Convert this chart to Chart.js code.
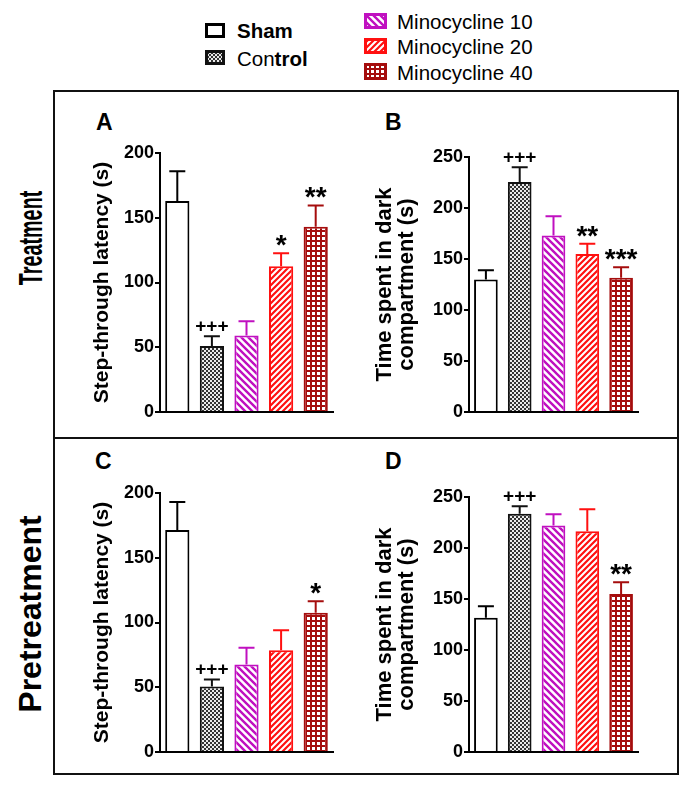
<!DOCTYPE html>
<html>
<head>
<meta charset="utf-8">
<script src="https://cdn.jsdelivr.net/npm/chart.js@4.4.0/dist/chart.umd.min.js"></script>
<style>
  body { margin: 0; background: #fff; font-family: "Liberation Sans", Arial, sans-serif; color: #000; }
  #fig { position: relative; width: 688px; height: 785px; overflow: hidden; }
  .chart { position: absolute; }
  .frame { position: absolute; border: 2px solid #111; }
  .rule { position: absolute; background: #111; }
  .letter { position: absolute; font-weight: bold; font-size: 23px; line-height: 1; }
  .side { position: absolute; font-weight: bold; line-height: 1; white-space: nowrap; }
  .leg { position: absolute; font-size: 20.5px; line-height: 1; white-space: nowrap; }
  .sw { position: absolute; }
</style>
</head>
<body>
<div id="fig">
  <!-- legend -->
  <canvas class="sw" id="swSham" width="20" height="15" style="left:205px;top:23px"></canvas>
  <div class="leg" style="left:237px;top:21px;font-weight:bold">Sham</div>
  <canvas class="sw" id="swCtrl" width="20" height="15" style="left:205px;top:50px"></canvas>
  <div class="leg" style="left:237px;top:49px">Con<b>trol</b></div>
  <canvas class="sw" id="swM10" width="23" height="16" style="left:364px;top:13px"></canvas>
  <div class="leg" style="left:397px;top:12px">Minocycline 10</div>
  <canvas class="sw" id="swM20" width="23" height="16" style="left:364px;top:38px"></canvas>
  <div class="leg" style="left:397px;top:37px">Minocycline 20</div>
  <canvas class="sw" id="swM40" width="23" height="17" style="left:364px;top:63px"></canvas>
  <div class="leg" style="left:397px;top:63px">Minocycline 40</div>

  <!-- frames -->
  <div class="frame" style="left:53px;top:90px;width:622px;height:681px"></div>
  <div class="rule" style="left:53px;top:437px;width:626px;height:2px"></div>

  <div class="side" style="left:30px;top:238px;font-size:33px;transform:translate(-50%,-50%) rotate(-90deg) scaleX(0.6)">Treatment</div>
  <div class="side" style="left:30px;top:614px;font-size:32px;transform:translate(-50%,-50%) rotate(-90deg)">Pretreatment</div>

  <div class="letter" style="left:96px;top:111px">A</div>
  <div class="letter" style="left:385px;top:111px">B</div>
  <div class="letter" style="left:95px;top:450px">C</div>
  <div class="letter" style="left:385px;top:450px">D</div>

  <canvas class="chart" id="chartA" width="290" height="330" style="left:60px;top:100px"></canvas>
  <canvas class="chart" id="chartB" width="300" height="330" style="left:360px;top:100px"></canvas>
  <canvas class="chart" id="chartC" width="290" height="330" style="left:60px;top:440px"></canvas>
  <canvas class="chart" id="chartD" width="300" height="330" style="left:360px;top:440px"></canvas>
</div>

<script>
const groups = ['Sham', 'Control', 'Minocycline 10', 'Minocycline 20', 'Minocycline 40'];

// A - treatment, step-through latency
const treatLatency = [163, 51, 59, 112.5, 143];
const treatLatencySem = [23, 7.5, 11, 10, 16.5];
const treatLatencySig = ['', '+++', '', '*', '**'];

// B - treatment, time in dark compartment
const treatDark = [130, 225.5, 173, 155, 131.5];
const treatDarkSem = [9, 14.5, 19, 10, 10.5];
const treatDarkSig = ['', '+++', '', '**', '***'];

// C - pretreatment, step-through latency
const preLatency = [171.5, 50.5, 67.5, 78.5, 107.5];
const preLatencySem = [21.5, 5.5, 13, 15.5, 9];
const preLatencySig = ['', '+++', '', '', '*'];

// D - pretreatment, time in dark compartment
const preDark = [131.5, 233.5, 222, 216.5, 155];
const preDarkSem = [11.5, 7.5, 11, 21.5, 11.5];
const preDarkSig = ['', '+++', '', '', '**'];

const latencyTicks = [0, 50, 100, 150, 200];
const darkTicks = [0, 50, 100, 150, 200, 250];

const FONT = '"Liberation Sans", Arial, sans-serif';
const MAGENTA = '#c010c0', RED = '#ff1010', DARKRED = '#a50d0d';

function makePattern(kind) {
  const c = document.createElement('canvas');
  const g = c.getContext('2d');
  if (kind == 'checker') {
    c.width = c.height = 4;
    g.fillStyle = '#eaeaea'; g.fillRect(0, 0, 4, 4);
    g.fillStyle = '#333'; g.fillRect(0, 0, 2, 2); g.fillRect(2, 2, 2, 2);
  } else if (kind == 'grid') {
    c.width = c.height = 5;
    g.fillStyle = '#fff'; g.fillRect(0, 0, 5, 5);
    g.fillStyle = DARKRED; g.fillRect(0, 0, 5, 2); g.fillRect(0, 0, 2, 5);
  } else {
    const P = kind == 'back' ? 7 : 6;
    c.width = c.height = P;
    g.fillStyle = '#fff'; g.fillRect(0, 0, P, P);
    g.strokeStyle = kind == 'back' ? MAGENTA : RED;
    g.lineWidth = kind == 'back' ? 2.4 : 2.2;
    g.beginPath();
    for (let k = -1; k <= 2; k++) {
      if (kind == 'back') { g.moveTo(k * P - P, -P); g.lineTo(k * P + 2 * P, 2 * P); }
      else { g.moveTo(k * P + P, -P); g.lineTo(k * P - 2 * P, 2 * P); }
    }
    g.stroke();
  }
  return g.createPattern(c, 'repeat');
}

const fills = ['#fff', makePattern('checker'), makePattern('back'), makePattern('fwd'), makePattern('grid')];
const edges = ['#000', '#111', MAGENTA, RED, DARKRED];

// legend swatches
['swSham', 'swCtrl', 'swM10', 'swM20', 'swM40'].forEach((id, i) => {
  const cv = document.getElementById(id), g = cv.getContext('2d');
  g.fillStyle = fills[i]; g.fillRect(0, 0, cv.width, cv.height);
  g.strokeStyle = edges[i]; g.lineWidth = 3;
  g.strokeRect(1.5, 1.5, cv.width - 3, cv.height - 3);
});

// error bars (upward only) + significance marks
const errbars = {
  id: 'errbars',
  afterDatasetsDraw(chart, args, opts) {
    const ctx = chart.ctx, y = chart.scales.y;
    const meta = chart.getDatasetMeta(0);
    const vals = chart.data.datasets[0].data;
    ctx.save();
    meta.data.forEach((bar, i) => {
      const top = y.getPixelForValue(vals[i] + opts.sem[i]);
      ctx.strokeStyle = edges[i];
      ctx.lineWidth = 2;
      ctx.beginPath();
      ctx.moveTo(bar.x, bar.y);
      ctx.lineTo(bar.x, top);
      ctx.moveTo(bar.x - 8, top);
      ctx.lineTo(bar.x + 8, top);
      ctx.stroke();
      const s = opts.sig[i];
      if (s) {
        ctx.fillStyle = '#000';
        ctx.textAlign = 'center';
        ctx.textBaseline = 'alphabetic';
        if (s[0] == '+') {
          ctx.font = 'bold 19px ' + FONT;
          ctx.fillText(s, bar.x, top - 4);
        } else {
          ctx.font = 'bold 28px ' + FONT;
          ctx.fillText(s, bar.x, top + 1);
        }
      }
    });
    ctx.restore();
  }
};

function panel(id, values, sem, sig, ticks, title, geo) {
  new Chart(document.getElementById(id), {
    type: 'bar',
    data: {
      labels: groups,
      datasets: [{
        data: values,
        backgroundColor: fills,
        borderColor: edges,
        borderWidth: 2,
        barPercentage: 0.7,
        categoryPercentage: 1.0
      }]
    },
    options: {
      responsive: false,
      animation: false,
      devicePixelRatio: 1,
      layout: { padding: { left: 0, top: geo.top, right: geo.right, bottom: 18 } },
      plugins: {
        legend: { display: false },
        tooltip: { enabled: false },
        errbars: { sem: sem, sig: sig }
      },
      scales: {
        x: {
          grid: { display: false },
          ticks: { display: false },
          border: { color: '#000', width: 2 },
          afterFit: s => { s.height = 0; }
        },
        y: {
          min: 0,
          max: ticks[ticks.length - 1],
          afterBuildTicks: s => { s.ticks = ticks.map(v => ({ value: v })); },
          ticks: { color: '#000', padding: 1, font: { family: FONT, size: 18, weight: 'bold' } },
          grid: { drawOnChartArea: false, tickLength: 5, color: '#000', lineWidth: 2 },
          border: { color: '#000', width: 2 },
          title: {
            display: true,
            text: title,
            color: '#000',
            font: { family: FONT, size: geo.tsize, weight: 'bold', lineHeight: geo.lh },
            padding: { top: geo.tpad, bottom: 0 }
          },
          afterFit: s => { s.width = geo.axisW; }
        }
      }
    },
    plugins: [errbars]
  });
}

const geoLat = { top: 53, right: 17, axisW: 100, tsize: 21, lh: 1.2, tpad: 30 };
const geoDark = { top: 57, right: 22, axisW: 109, tsize: 22, lh: 1.0, tpad: 14 };
const latTitle = 'Step-through latency (s)';
const darkTitle = ['Time spent in dark', 'compartment (s)'];

panel('chartA', treatLatency, treatLatencySem, treatLatencySig, latencyTicks, latTitle, geoLat);
panel('chartB', treatDark, treatDarkSem, treatDarkSig, darkTicks, darkTitle, geoDark);
panel('chartC', preLatency, preLatencySem, preLatencySig, latencyTicks, latTitle, geoLat);
panel('chartD', preDark, preDarkSem, preDarkSig, darkTicks, darkTitle, geoDark);
</script>
</body>
</html>
